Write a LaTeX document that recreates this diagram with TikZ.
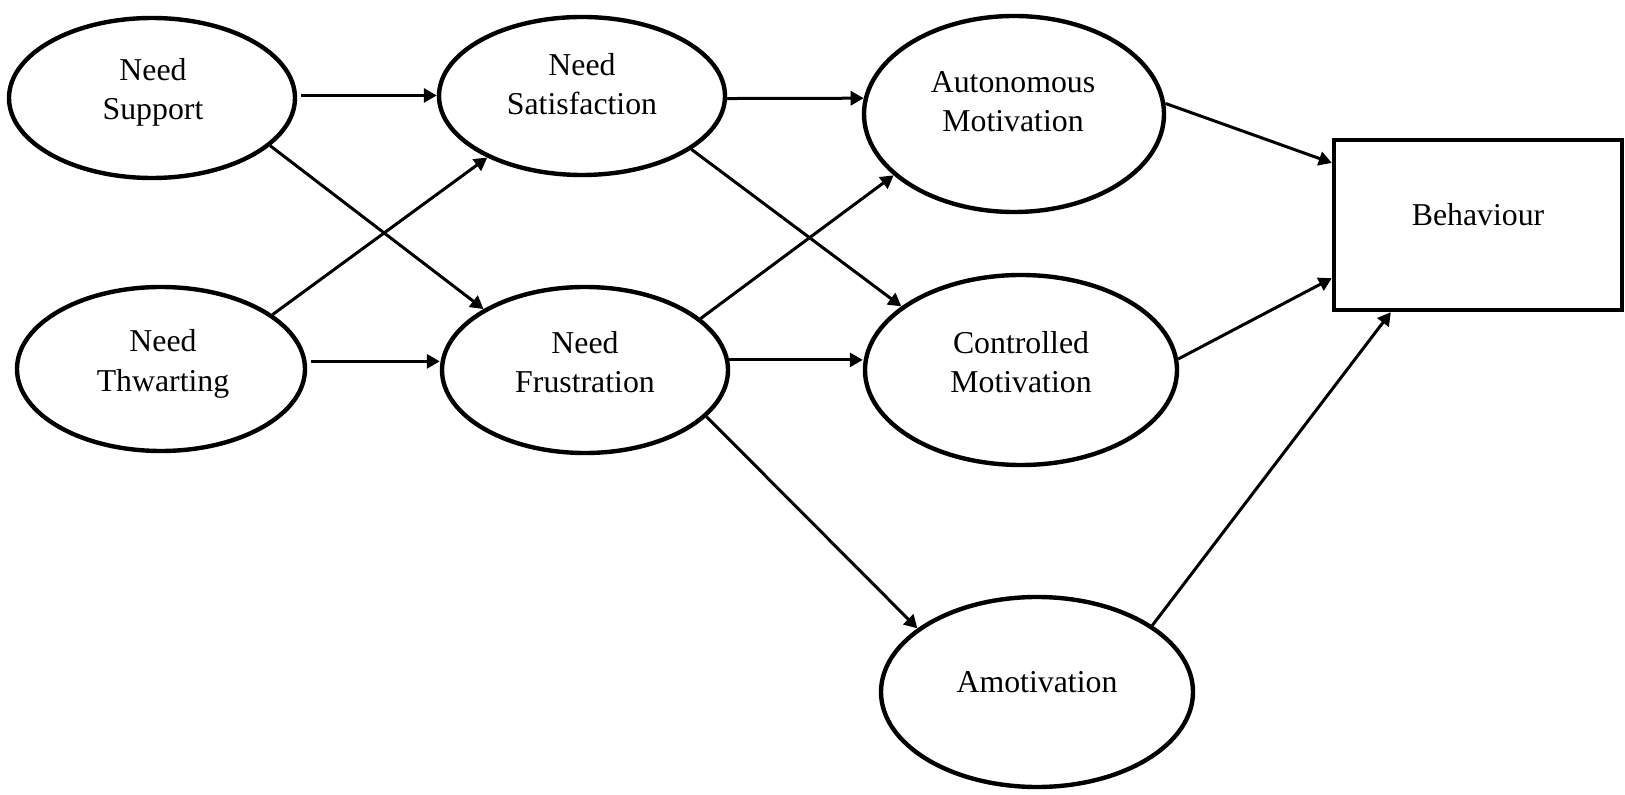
\documentclass[tikz,border=0pt]{standalone}
\usepackage{fontspec}
\setmainfont{Liberation Serif}
\usetikzlibrary{shapes.geometric,arrows.meta}
\begin{document}
\begin{tikzpicture}[x=0.5pt,y=-0.5pt,
  oval/.style={ellipse, draw, line width=2.2pt, inner sep=0pt},
  box/.style={rectangle, draw, line width=2.2pt, inner sep=0pt},
  lbl/.style={align=center, font=\fontsize{15.9}{19.6}\selectfont, inner sep=0pt},
  link/.style={line width=1.5pt, -{Triangle[length=6.5pt,width=7pt]}}]
\fill[white] (0,0) rectangle (1625,795);
\useasboundingbox (0,0) rectangle (1625,795);

% constructs
\node[oval, minimum width=143pt, minimum height=80pt] (sup) at (152,98) {};
\node[oval, minimum width=143pt, minimum height=79pt] (sat) at (582,96) {};
\node[oval, minimum width=150pt, minimum height=98pt] (aut) at (1014,114) {};
\node[oval, minimum width=144pt, minimum height=82pt] (thw) at (161,369) {};
\node[oval, minimum width=143pt, minimum height=83pt] (fru) at (585,370) {};
\node[oval, minimum width=156pt, minimum height=95pt] (con) at (1021,370) {};
\node[oval, minimum width=156pt, minimum height=95pt] (amo) at (1037,692) {};
\node[box, minimum width=144pt, minimum height=85pt] (beh) at (1478,225) {};

% labels
\node[lbl] (supT) at (153,92) {Need\\Support};
\node[lbl] (satT) at (582,84) {Need\\Satisfaction};
\node[lbl] (autT) at (1013,102) {Autonomous\\Motivation};
\node[lbl] (thwT) at (163,364) {Need\\Thwarting};
\node[lbl] (fruT) at (585,362) {Need\\Frustration};
\node[lbl] (conT) at (1021,362) {Controlled\\Motivation};
\node[lbl] (amoT) at (1037,682) {Amotivation};
\node[lbl] (behT) at (1478,215) {Behaviour};

% paths
\draw[link, shorten <=2pt] (sup.1) -- (sup.1 -| sat.west);
\draw[link] (sat.-1) -- (aut.174);
\draw[link, shorten <=2pt] (thw.3.6) -- (thw.3.6 -| fru.west);
\draw[link] (fru.4.7) -- (fru.4.7 -| con.west);
\draw[link] (sup.-22.6) -- (fru.149);
\draw[link] (thw.26.2) -- (sat.213);
\draw[link] (sat.-26.1) -- (con.152.9);
\draw[link] (fru.24.3) -- (aut.207.7);
\draw[link] (fru.-21.5) -- (amo.152.9);
\draw[link] (aut.4.1) -- (beh.157.7);
\draw[link] (con.4.3) -- (beh.200.4);
\draw[link] (amo.30.7) -- (beh.225);
\end{tikzpicture}
\end{document}
